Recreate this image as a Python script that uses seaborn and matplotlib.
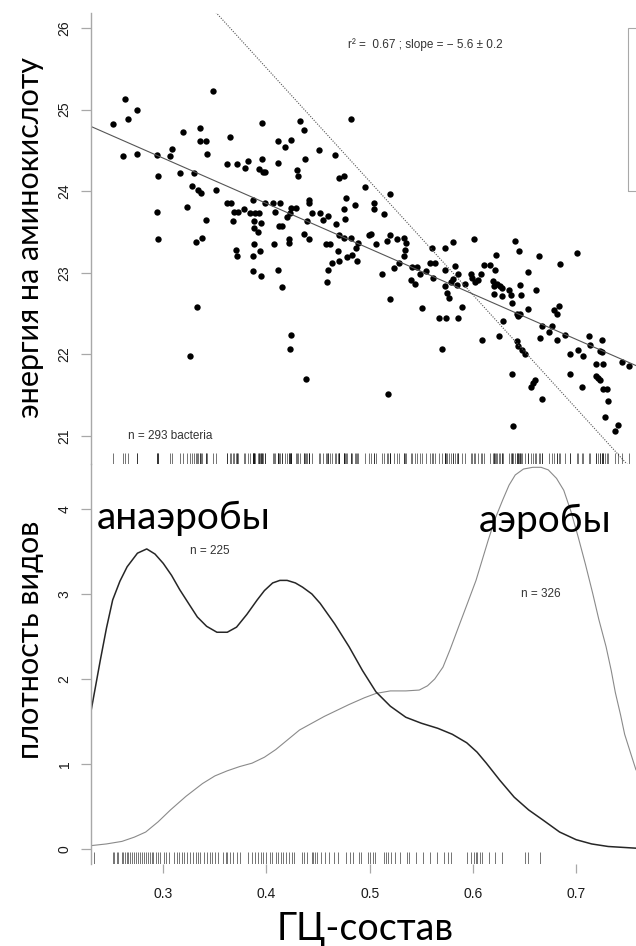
import matplotlib
matplotlib.use('Agg')
import matplotlib.pyplot as plt
import seaborn as sns
import numpy as np
from matplotlib.patches import Rectangle

# --- scatter: GC content vs energy per amino acid
gc = [0.263, 0.251, 0.266, 0.275, 0.261, 0.275, 0.348, 0.319, 0.336, 0.294,
      0.295, 0.294, 0.295, 0.307, 0.308, 0.316, 0.330, 0.323, 0.328, 0.334,
      0.337, 0.336, 0.341, 0.342, 0.351, 0.341, 0.332, 0.338, 0.365, 0.362,
      0.371, 0.379, 0.382, 0.396, 0.396, 0.393, 0.397, 0.399, 0.411, 0.418,
      0.424, 0.411, 0.432, 0.436, 0.437, 0.430, 0.431, 0.451, 0.362, 0.366,
      0.369, 0.372, 0.368, 0.378, 0.387, 0.384, 0.389, 0.393, 0.388, 0.395,
      0.388, 0.392, 0.399, 0.406, 0.408, 0.413, 0.415, 0.412, 0.423, 0.424,
      0.429, 0.420, 0.441, 0.441, 0.444, 0.439, 0.436, 0.441, 0.422, 0.422,
      0.407, 0.388, 0.394, 0.370, 0.371, 0.387,
      0.387, 0.395, 0.411, 0.415, 0.333, 0.326, 0.424, 0.423, 0.438,
      0.482, 0.466, 0.470, 0.475, 0.477, 0.486, 0.495, 0.475, 0.476, 0.467,
      0.504, 0.504, 0.514, 0.520, 0.452, 0.455, 0.460, 0.470, 0.475, 0.482,
      0.489, 0.487, 0.499, 0.501, 0.506, 0.517, 0.520, 0.526, 0.533, 0.535,
      0.534, 0.533, 0.560, 0.573, 0.581, 0.601, 0.641, 0.645, 0.622, 0.664,
      0.701, 0.458, 0.462, 0.469, 0.478, 0.483,
      0.460, 0.463, 0.470, 0.488, 0.459, 0.512, 0.520, 0.518, 0.524, 0.528,
      0.541, 0.546, 0.540, 0.544, 0.551, 0.549, 0.555, 0.558, 0.563, 0.561,
      0.567, 0.574, 0.570, 0.573, 0.575, 0.577, 0.573, 0.579, 0.583, 0.586,
      0.581, 0.585, 0.589, 0.586, 0.592, 0.598, 0.599, 0.602, 0.605, 0.608,
      0.609, 0.611, 0.617, 0.621, 0.619, 0.620, 0.623, 0.626, 0.628, 0.620,
      0.628, 0.629, 0.625, 0.635, 0.637, 0.646, 0.647, 0.638, 0.643, 0.646,
      0.644, 0.653, 0.653, 0.661, 0.684, 0.683, 0.679, 0.681, 0.667, 0.677,
      0.674, 0.665, 0.681, 0.643, 0.644, 0.648, 0.650, 0.638, 0.639, 0.660,
      0.658, 0.656, 0.667, 0.689, 0.694, 0.694, 0.702, 0.707, 0.706, 0.712,
      0.713, 0.725, 0.723, 0.725, 0.719, 0.726, 0.719, 0.721, 0.723, 0.726,
      0.730, 0.731, 0.728, 0.741, 0.738, 0.744, 0.751]
energy = [25.13, 24.82, 24.89, 25.00, 24.43, 24.46, 25.23, 24.73, 24.78, 24.44,
          24.19, 23.74, 23.41, 24.43, 24.52, 24.22, 24.22, 23.81, 24.07, 24.01,
          23.98, 24.62, 24.61, 24.45, 24.02, 23.65, 23.38, 23.43, 24.67, 24.33,
          24.33, 24.29, 24.37, 24.83, 24.39, 24.27, 24.23, 24.24, 24.61, 24.54,
          24.63, 24.35, 24.86, 24.75, 24.39, 24.26, 24.19, 24.50, 23.86, 23.86,
          23.74, 23.74, 23.64, 23.78, 23.89, 23.73, 23.73, 23.73, 23.64, 23.61,
          23.55, 23.50, 23.85, 23.86, 23.74, 23.85, 23.57, 23.57, 23.73, 23.79,
          23.80, 23.68, 23.89, 23.85, 23.73, 23.64, 23.48, 23.41, 23.41, 23.36,
          23.35, 23.35, 23.27, 23.28, 23.21, 23.21,
          23.02, 22.96, 23.04, 22.83, 22.58, 21.98, 22.24, 22.07, 21.70,
          24.88, 24.44, 24.16, 24.19, 23.92, 23.83, 24.05, 23.78, 23.66, 23.60,
          23.85, 23.78, 23.72, 23.97, 23.73, 23.65, 23.70, 23.46, 23.43, 23.43,
          23.36, 23.30, 23.46, 23.48, 23.35, 23.39, 23.46, 23.41, 23.43, 23.36,
          23.28, 23.20, 23.30, 23.30, 23.38, 23.41, 23.39, 23.27, 23.22, 23.20,
          23.24, 23.35, 23.35, 23.27, 23.19, 23.22,
          23.03, 23.12, 23.14, 23.14, 22.89, 22.99, 22.68, 21.51, 23.06, 23.12,
          23.07, 23.07, 22.91, 22.86, 22.57, 22.99, 23.02, 23.12, 23.12, 22.94,
          22.45, 22.45, 22.07, 22.84, 22.75, 22.69, 23.03, 22.89, 23.08, 22.98,
          22.93, 22.85, 22.58, 22.45, 22.86, 22.99, 22.94, 22.89, 22.91, 22.99,
          22.18, 23.10, 23.09, 23.03, 22.90, 22.84, 22.86, 22.84, 22.82, 22.74,
          22.72, 22.41, 22.23, 22.79, 22.73, 22.85, 22.73, 22.63, 22.50, 22.49,
          22.47, 23.01, 22.56, 22.79, 23.11, 22.59, 22.54, 22.50, 22.35, 22.35,
          22.27, 22.20, 22.18, 22.17, 22.10, 22.05, 22.01, 21.76, 21.12, 21.69,
          21.65, 21.60, 21.45, 22.24, 22.01, 21.76, 22.06, 21.98, 21.60, 22.23,
          22.12, 22.18, 22.04, 22.03, 21.88, 21.88, 21.74, 21.71, 21.69, 21.58,
          21.57, 21.43, 21.23, 21.14, 21.06, 21.91, 21.86]

# regression lines: intercept, slope
fit_solid = (26.07, -5.55)
fit_dotted = (31.07, -13.9)

# --- density curves
anaer_x = [0.230, 0.239, 0.245, 0.251, 0.258, 0.265, 0.275, 0.284, 0.292, 0.300,
           0.308, 0.316, 0.325, 0.333, 0.342, 0.352, 0.362, 0.371, 0.381, 0.391,
           0.398, 0.406, 0.413, 0.420, 0.428, 0.435, 0.444, 0.452, 0.466, 0.480,
           0.493, 0.506, 0.520, 0.535, 0.550, 0.566, 0.580, 0.594, 0.604, 0.613,
           0.626, 0.640, 0.654, 0.668, 0.684, 0.700, 0.715, 0.731, 0.758]
anaer_y = [1.62, 2.22, 2.60, 2.93, 3.15, 3.32, 3.48, 3.53, 3.47, 3.36,
           3.22, 3.05, 2.88, 2.73, 2.62, 2.55, 2.55, 2.61, 2.76, 2.93,
           3.04, 3.13, 3.16, 3.16, 3.13, 3.08, 3.00, 2.89, 2.65, 2.38,
           2.10, 1.85, 1.68, 1.55, 1.48, 1.42, 1.35, 1.25, 1.14, 1.01,
           0.81, 0.61, 0.46, 0.34, 0.20, 0.11, 0.06, 0.03, 0.01]
aer_x = [0.230, 0.245, 0.260, 0.272, 0.283, 0.295, 0.307, 0.322, 0.338, 0.350,
         0.362, 0.374, 0.386, 0.398, 0.409, 0.420, 0.432, 0.444, 0.456, 0.468,
         0.480, 0.495, 0.506, 0.520, 0.535, 0.548, 0.556, 0.563, 0.571, 0.578,
         0.586, 0.595, 0.603, 0.609, 0.615, 0.622, 0.629, 0.635, 0.641, 0.649,
         0.658, 0.666, 0.673, 0.681, 0.688, 0.695, 0.702, 0.709, 0.716, 0.722,
         0.729, 0.734, 0.738, 0.743, 0.747, 0.753, 0.758]
aer_y = [0.04, 0.06, 0.09, 0.14, 0.20, 0.32, 0.46, 0.62, 0.77, 0.86,
         0.92, 0.97, 1.01, 1.08, 1.17, 1.28, 1.40, 1.48, 1.56, 1.63,
         1.70, 1.78, 1.83, 1.86, 1.86, 1.87, 1.92, 2.00, 2.14, 2.35,
         2.61, 2.90, 3.16, 3.40, 3.64, 3.90, 4.11, 4.28, 4.40, 4.47,
         4.49, 4.49, 4.46, 4.36, 4.22, 3.97, 3.67, 3.35, 3.01, 2.70,
         2.38, 2.10, 1.84, 1.58, 1.35, 1.12, 0.93]

# rug under the density panel (anaerobes GC)
anaer_rug = [0.233, 0.251, 0.252, 0.255, 0.256, 0.260, 0.261, 0.263, 0.265, 0.266,
             0.268, 0.270, 0.272, 0.274, 0.276, 0.277, 0.279, 0.281, 0.283, 0.285,
             0.287, 0.289, 0.290, 0.293, 0.295, 0.297, 0.301, 0.303, 0.306, 0.310,
             0.313, 0.315, 0.318, 0.320, 0.323, 0.326, 0.329, 0.332, 0.334, 0.336,
             0.339, 0.342, 0.345, 0.347, 0.350, 0.353, 0.358, 0.361, 0.362, 0.365,
             0.368, 0.371, 0.374, 0.382, 0.386, 0.389, 0.392, 0.395, 0.397, 0.400,
             0.403, 0.405, 0.409, 0.411, 0.414, 0.416, 0.419, 0.422, 0.425, 0.427,
             0.434, 0.436, 0.439, 0.444, 0.445, 0.447, 0.449, 0.453, 0.457, 0.461,
             0.465, 0.469, 0.477, 0.481, 0.484, 0.490, 0.492, 0.498, 0.500, 0.503,
             0.505, 0.514, 0.516, 0.518, 0.521, 0.525, 0.529, 0.536, 0.538, 0.545,
             0.552, 0.558, 0.565, 0.572, 0.576, 0.579, 0.594, 0.598, 0.601, 0.603,
             0.604, 0.607, 0.609, 0.616, 0.621, 0.628, 0.650, 0.653, 0.665]

xlim = (0.230, 0.758)
top_yticks = [21, 22, 23, 24, 25, 26]
bot_yticks = [0, 1, 2, 3, 4]
gc_ticks = [0.3, 0.4, 0.5, 0.6, 0.7]

sns.set_style('white')
plt.rcParams['font.family'] = ['Liberation Sans', 'DejaVu Sans']

W, H = 636, 946
fig = plt.figure(figsize=(W / 100, H / 100), dpi=100)

def fx(px):
    return px / W

def fy(py):
    return 1 - py / H

ax1 = fig.add_axes([fx(91), fy(464), 1 - fx(91), (464 - 13) / H])
ax2 = fig.add_axes([fx(91), fy(864), 1 - fx(91), (864 - 464) / H])

for ax in (ax1, ax2):
    ax.set_facecolor('none')
    for s in ['top', 'right', 'bottom']:
        ax.spines[s].set_visible(False)
    ax.spines['left'].set_color('#a8a8a8')
    ax.spines['left'].set_linewidth(1.0)
    ax.set_xlim(*xlim)
    ax.tick_params(axis='y', left=True, length=7, width=0.9, color='#a8a8a8',
                   pad=7, labelsize=10, labelcolor='#1a1a1a')

# top panel
sns.scatterplot(x=gc, y=energy, ax=ax1, color='black', s=21, linewidth=0)
xs = np.array(xlim)
sns.lineplot(x=xs, y=fit_solid[0] + fit_solid[1] * xs, ax=ax1,
             color='#555555', linewidth=0.8)
ax1.plot(xs, fit_dotted[0] + fit_dotted[1] * xs, color='#555555',
         linewidth=0.8, linestyle=(0, (1, 1.3)))
sns.rugplot(x=gc, ax=ax1, height=0.024, color='black', linewidth=0.7,
            alpha=0.55, expand_margins=False)
ax1.set_ylim(20.657, 26.184)
ax1.set_yticks(top_yticks)
ax1.set_xticks([])

# bottom panel
sns.lineplot(x=aer_x, y=aer_y, ax=ax2, color='#8a8a8a', linewidth=0.8,
             sort=False, estimator=None)
sns.lineplot(x=anaer_x, y=anaer_y, ax=ax2, color='#262626', linewidth=1.1,
             sort=False, estimator=None)
sns.rugplot(x=anaer_rug, ax=ax2, height=0.03, color='black', linewidth=0.7,
            alpha=0.55, expand_margins=False)
ax2.set_ylim(-0.176, 4.529)
ax2.set_yticks(bot_yticks)
ax2.set_xticks(gc_ticks)
ax2.set_xticklabels([str(t) for t in gc_ticks])
ax2.tick_params(axis='x', bottom=True, length=6.5, width=0.9, color='#a8a8a8',
                pad=10, labelsize=10, labelcolor='#1a1a1a')
ax2.set_xlim(*xlim)

for ax in (ax1, ax2):
    ax.set_xlabel('')
    ax.set_ylabel('')
    for lab in ax.get_yticklabels():
        lab.set(rotation=90, va='center', ha='right')

# annotations
small = dict(fontsize=8.5, color='#333333')
fig.text(fx(348), fy(45), 'r² =  0.67 ; slope = − 5.6 ± 0.2', va='center', ha='left', **small)
fig.text(fx(128), fy(436), 'n = 293 bacteria', va='center', ha='left', **small)
fig.text(fx(190), fy(551), 'n = 225', va='center', ha='left', **small)
fig.text(fx(521), fy(594), 'n = 326', va='center', ha='left', **small)

big = ['Lato', 'DejaVu Sans']
fig.text(fx(30), fy(238), 'энергия на аминокислоту', rotation=90, ha='center',
         va='center', fontsize=22, family=big, color='black')
fig.text(fx(30), fy(640), 'плотность видов', rotation=90, ha='center',
         va='center', fontsize=22, family=big, color='black')
fig.text(fx(97), fy(529), 'анаэробы', ha='left', va='baseline', fontsize=28,
         family=big, color='black')
fig.text(fx(479), fy(532), 'аэробы', ha='left', va='baseline', fontsize=28,
         family=big, color='black')
fig.text(fx(365), fy(940), 'ГЦ-состав', ha='center', va='baseline', fontsize=27,
         family=big, color='black')

# fragment of a legend box cut off at the right edge
fig.add_artist(Rectangle((fx(628), fy(191)), 20 / W, (191 - 28) / H,
                         transform=fig.transFigure, fill=False,
                         edgecolor='#a8a8a8', linewidth=0.8))

fig.savefig('out.png', dpi=100)
